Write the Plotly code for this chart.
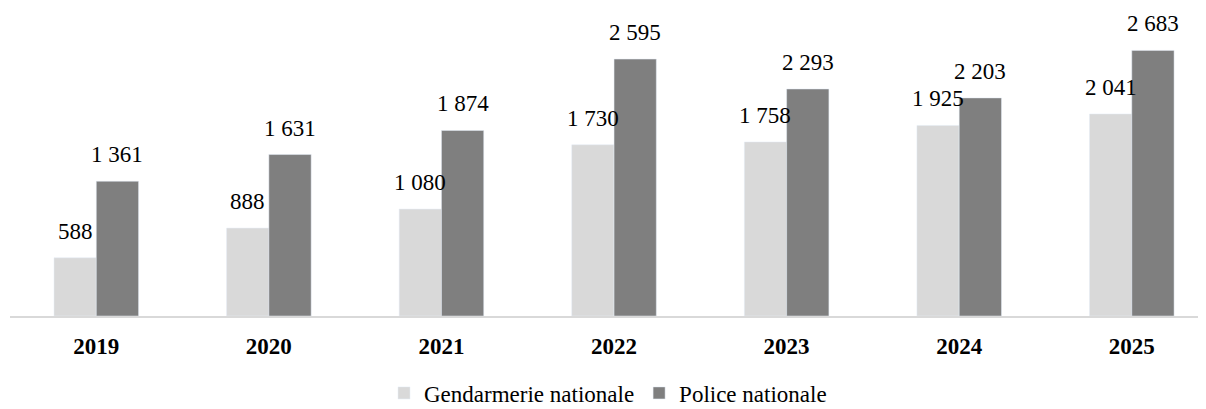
import plotly.graph_objects as go

years = ['2019', '2020', '2021', '2022', '2023', '2024', '2025']
gendarmerie = [588, 888, 1080, 1730, 1758, 1925, 2041]
police = [1361, 1631, 1874, 2595, 2293, 2203, 2683]

LIGHT = '#d9d9d9'
DARK = '#7f7f7f'
FONT = 'Liberation Serif'

# the page body has an 8px margin, so the figure is sized to fit after it
W, H = 1198, 401
margin = dict(l=2, r=0, t=11, b=93)
x_range = [-0.5, 6.43]
bargap = 0.51


def fmt(v):
    # French-style thousands separator
    return f"{v:,}".replace(',', ' ')


fig = go.Figure()
fig.add_trace(go.Bar(x=years, y=gendarmerie, name='Gendarmerie nationale',
                     marker_color=LIGHT))
fig.add_trace(go.Bar(x=years, y=police, name='Police nationale',
                     marker_color=DARK))

# value labels above each bar, offset to the bar's centre within the group
cat_px = (W - margin['l'] - margin['r']) / (x_range[1] - x_range[0])
half = (1 - bargap) / 4 * cat_px
for i in range(len(years)):
    for val, shift in ((gendarmerie[i], -half), (police[i], half)):
        fig.add_annotation(x=i, y=val, xref='x', yref='y', text=fmt(val),
                           showarrow=False, xshift=shift,
                           yanchor='bottom', yshift=12,
                           font=dict(family=FONT, size=23, color='#000000'))

fig.update_layout(
    width=W, height=H,
    margin=margin,
    barmode='group',
    bargap=bargap,
    bargroupgap=0,
    paper_bgcolor='white',
    plot_bgcolor='white',
    font=dict(family=FONT, color='#000000', size=23),
    showlegend=True,
    legend=dict(orientation='h', x=0.5, xanchor='center',
                yref='container', y=0.04, yanchor='middle',
                font=dict(family=FONT, size=23, color='#000000'),
                traceorder='normal', itemwidth=30),
    xaxis=dict(type='category', range=x_range, showline=True,
               linecolor=LIGHT, linewidth=2, ticks='', showgrid=False,
               ticklabelstandoff=8,
               tickfont=dict(family=FONT, size=23, weight='bold', color='#000000')),
    yaxis=dict(range=[0, 3000], showticklabels=False, showgrid=False,
               zeroline=False, showline=False, ticks=''),
)

fig.write_html("out.html")
